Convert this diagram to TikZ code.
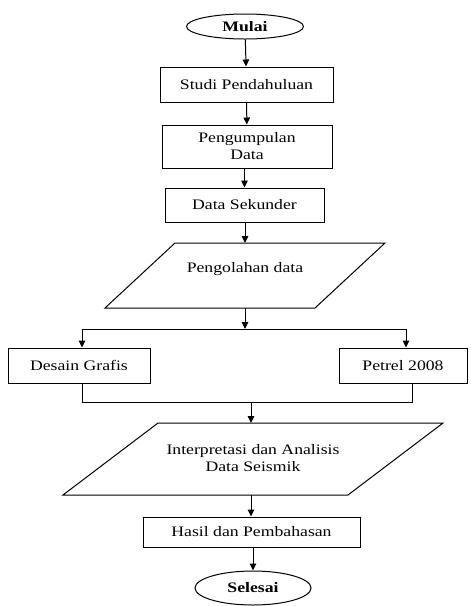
\documentclass[tikz,border=0pt]{standalone}
\usepackage{fontspec}
\setmainfont{Liberation Serif}[FakeStretch=1.22]
\usetikzlibrary{arrows.meta,shapes.geometric}
\begin{document}
\begin{tikzpicture}[x=1pt,y=-1pt,
  txt/.style={font=\fontsize{14.5}{17}\selectfont, align=center},
  box/.style={txt, draw, line width=1pt, inner sep=0pt},
  term/.style={txt, ellipse, draw, line width=1pt, inner sep=0pt},
  ln/.style={line width=1pt},
  arr/.style={ln, -{Triangle[length=7pt,width=6.5pt]}}]
\useasboundingbox (0,0) rectangle (471,606);
% nodes
\node[term, minimum width=117pt, minimum height=25pt] (mulai) at (245,26.5) {\textbf{Mulai}};
\node[box, minimum width=173pt, minimum height=35pt] (studi) at (246.5,84.5) {Studi Pendahuluan};
\node[box, minimum width=170pt, minimum height=43pt] (peng) at (247,146.5) {Pengumpulan\\Data};
\node[box, minimum width=159pt, minimum height=34pt] (ds) at (244.5,205) {Data Sekunder};
% parallelogram 1
\coordinate (p1tl) at (175,243); \coordinate (p1tr) at (385,243);
\coordinate (p1br) at (315,308); \coordinate (p1bl) at (105,308);
\draw[ln] (p1tl) -- (p1tr) -- (p1br) -- (p1bl) -- cycle;
\node[txt] (p1) at (245,269) {Pengolahan data};
\coordinate (p1t) at (245,243); \coordinate (p1b) at (245,308);
% split
\coordinate (sp) at (245,329);
\coordinate (spl) at (82,329); \coordinate (spr) at (406,329);
\node[box, minimum width=142pt, minimum height=35pt] (desain) at (79,365.5) {Desain Grafis};
\node[box, minimum width=128pt, minimum height=35pt] (petrel) at (403,365.5) {Petrel 2008};
% join
\coordinate (jl) at (82,402); \coordinate (jr) at (412,402); \coordinate (jm) at (251,402);
% parallelogram 2
\coordinate (p2tl) at (158,423); \coordinate (p2tr) at (443,423);
\coordinate (p2br) at (348,495); \coordinate (p2bl) at (63,495);
\draw[ln] (p2tl) -- (p2tr) -- (p2br) -- (p2bl) -- cycle;
\node[txt] (p2) at (253,458) {Interpretasi dan Analisis\\Data Seismik};
\coordinate (p2t) at (251,423); \coordinate (p2b) at (251,495);
\node[box, minimum width=217pt, minimum height=30pt] (hasil) at (251.5,532) {Hasil dan Pembahasan};
\node[term, minimum width=116pt, minimum height=34pt] (selesai) at (253,588) {\textbf{Selesai}};
% connectors
\draw[arr] (mulai) -- (studi);
\draw[arr] (studi) -- (peng);
\draw[arr] (peng.south -| ds) -- (ds);
\draw[arr] (ds.south -| p1t) -- (p1t);
\draw[arr] (p1b) -- (sp);
\draw[ln] (spl) -- (spr);
\draw[arr] (spl) -- (spl |- desain.north);
\draw[arr] (spr) -- (spr |- petrel.north);
\draw[ln] (desain.south -| jl) -- (jl) -- (jr) -- (jr |- petrel.south);
\draw[arr] (jm) -- (p2t);
\draw[arr] (p2b) -- (p2b |- hasil.north);
\draw[arr] (hasil.south -| selesai) -- (selesai);
\end{tikzpicture}
\end{document}
